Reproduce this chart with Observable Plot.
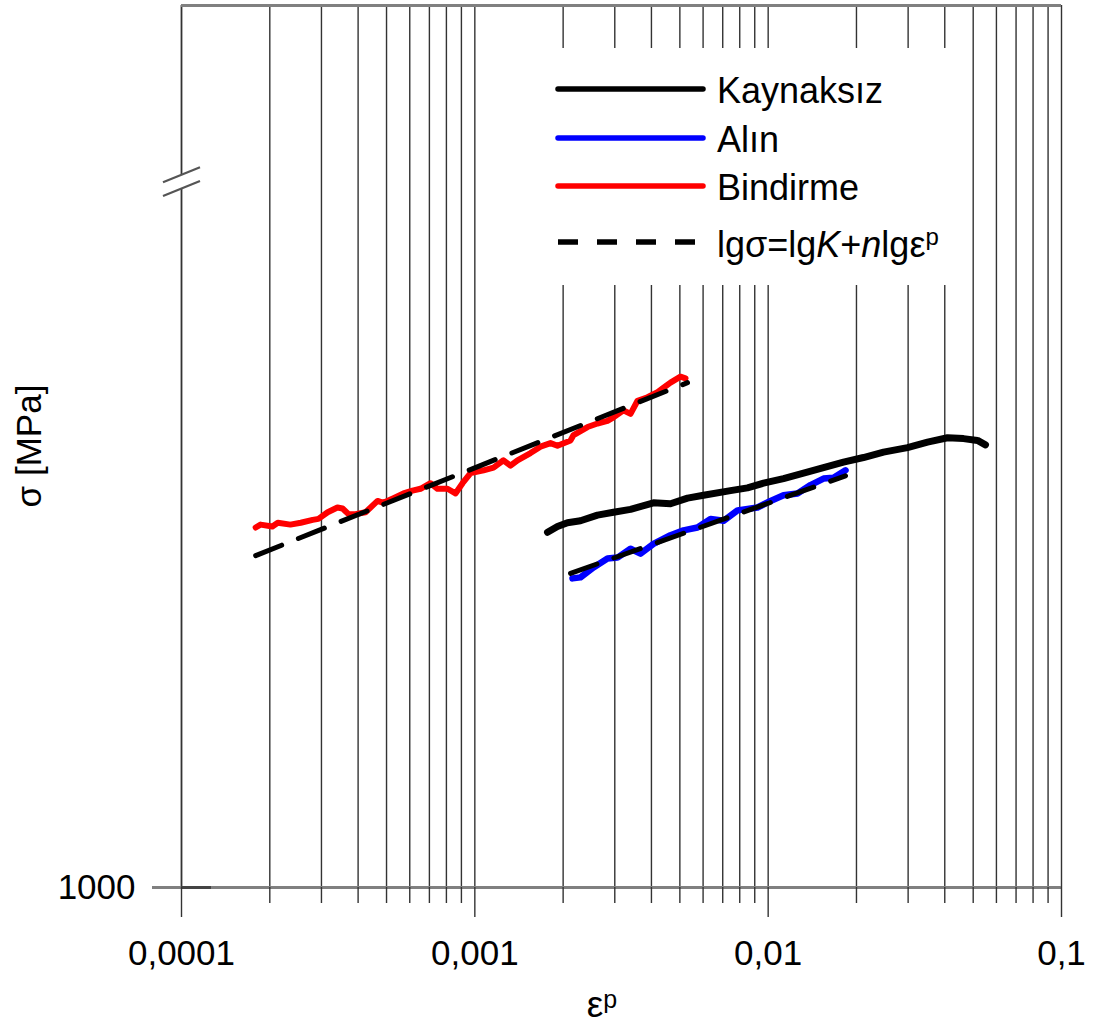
<!DOCTYPE html>
<html><head><meta charset="utf-8">
<script src="https://cdn.jsdelivr.net/npm/d3@7"></script>
<script src="https://cdn.jsdelivr.net/npm/@observablehq/plot@0.6"></script>
<style>
body{margin:0;background:#fff;font-family:"Liberation Sans",Arial,sans-serif;}
#wrap{position:relative;width:1098px;height:1026px;}
#legend{position:absolute;left:545px;top:48px;width:413px;height:237px;background:#fff;}
</style></head><body><div id="wrap"></div>
<script>
// ---- axis ticks ----
const xMajor = [0.0001, 0.001, 0.01, 0.1];
const xTickLabels = ["0,0001", "0,001", "0,01", "0,1"];
const xMinor = [0.0002,0.0003,0.0004,0.0005,0.0006,0.0007,0.0008,0.0009,
                0.002,0.003,0.004,0.005,0.006,0.007,0.008,0.009,
                0.02,0.03,0.04,0.05,0.06,0.07,0.08,0.09];
const yTicks = [1000];
const yTickLabels = ["1000"];
const yDomain = [1000, 2000];
const yBreak = [1732, 1751];

// ---- series: Kaynaksız (black) ----
const kaynaksizEps = [0.001769,0.001913,0.002069,0.002292,0.002619,0.002970,0.003394,0.004065,0.004645,0.005309,0.006020,0.007440,0.008502,0.009641,0.01128,0.01320,0.01544,0.01806,0.02113,0.02473,0.02985,0.03493,0.04087,0.04634,0.05172,0.05506];
const kaynaksizSigma = [1322,1328,1332,1334,1340,1343,1346,1353,1352,1358,1361,1366,1369,1374,1379,1385,1391,1397,1402,1408,1413,1419,1424,1423,1421,1416];

// ---- series: Alın (blue) ----
const alinEps = [0.002153,0.002292,0.002539,0.002833,0.003065,0.003394,0.003671,0.004065,0.004645,0.005145,0.005742,0.006362,0.007043,0.007863,0.009197,0.01019,0.01128,0.01259,0.01394,0.01544,0.01670,0.01835];
const alinSigma = [1275,1276,1286,1295,1296,1305,1300,1310,1319,1324,1327,1336,1334,1345,1348,1355,1361,1363,1372,1379,1380,1388];

// ---- series: Bindirme (red) ----
const bindirmeEps = [0.000179,0.000186,0.000204,0.000213,0.000235,0.000255,0.000280,0.000293,0.000315,0.000340,0.000354,0.000371,0.000392,0.000424,0.000466,0.000488,0.000528,0.000571,0.000613,0.000653,0.000706,0.000746,0.000807,0.000859,0.000908,0.000967,0.001071,0.001158,0.001252,0.001323,0.001398,0.001548,0.001674,0.001811,0.001913,0.002120,0.002170,0.002422,0.002619,0.002833,0.002970,0.003212,0.003394,0.003586,0.003878,0.004195,0.004397,0.004645,0.005024,0.005226];
const bindirmeSigma = [1327,1330,1328,1332,1330,1332,1335,1336,1343,1348,1347,1341,1341,1343,1355,1353,1358,1363,1366,1368,1374,1368,1368,1363,1374,1385,1388,1391,1399,1393,1399,1407,1414,1418,1415,1421,1427,1436,1440,1443,1447,1455,1451,1466,1470,1476,1481,1487,1494,1492];

// ---- fits lgσ = lgK + n lgε ----
const fitBindirmeEps = [0.000179, 0.005309];
const fitBindirmeSigma = [1298, 1487];
const fitAlinEps = [0.002120, 0.01835];
const fitAlinSigma = [1280, 1382];

const rows = (eps, sig) => eps.map((e, i) => ({eps: e, sigma: sig[i]}));
const gridColor = "#333333";
const frameColor = "#808080";

const slash = {draw(ctx) { ctx.moveTo(-18.5, 7.5); ctx.lineTo(18.5, -7.5); }};

const chart = Plot.plot({
  width: 1098, height: 1026,
  marginLeft: 181, marginRight: 37, marginTop: 5, marginBottom: 139,
  style: {fontFamily: "Liberation Sans, Arial, sans-serif", fontSize: "35px", color: "#000", background: "#fff"},
  x: {type: "log", domain: [xMajor[0], xMajor[xMajor.length - 1]]},
  y: {type: "log", domain: yDomain},
  marks: [
    Plot.ruleX([...xMinor, ...xMajor.slice(1)], {stroke: gridColor, strokeWidth: 1.4}),
    Plot.ruleX([{y1: yDomain[0], y2: yBreak[0]}, {y1: yBreak[1], y2: yDomain[1]}],
      {x: () => xMajor[0], y1: "y1", y2: "y2", stroke: gridColor, strokeWidth: 1.8}),
    Plot.ruleY([yDomain[1]], {stroke: frameColor, strokeWidth: 3}),
    Plot.ruleY(yTicks, {stroke: frameColor, strokeWidth: 3}),
    Plot.axisY({ticks: yTicks, tickSize: 29, tickPadding: 17, stroke: frameColor, strokeWidth: 3,
      tickFormat: d => yTickLabels[yTicks.indexOf(d)], label: null, fontSize: 35}),
    Plot.axisY({ticks: yTicks, tickSize: -30, tickFormat: () => "", stroke: "#444", strokeWidth: 3, label: null}),
    Plot.axisX({ticks: xMajor, tickSize: 30, tickPadding: 23, stroke: gridColor, strokeWidth: 1.4,
      tickFormat: d => xTickLabels[xMajor.indexOf(d)], label: null, fontSize: 35}),
    Plot.axisX({ticks: xMinor, tickSize: 16, tickFormat: () => "", stroke: gridColor, strokeWidth: 1.4, label: null}),
    Plot.dot(yBreak, {x: () => xMajor[0], y: d => d, symbol: slash, stroke: "#555", strokeWidth: 2.2, fill: "none"}),
    Plot.line(rows(kaynaksizEps, kaynaksizSigma), {x: "eps", y: "sigma", stroke: "#000", strokeWidth: 7, strokeLinejoin: "round", strokeLinecap: "round"}),
    Plot.line(rows(alinEps, alinSigma), {x: "eps", y: "sigma", stroke: "#0000ff", strokeWidth: 6.5, strokeLinejoin: "round", strokeLinecap: "round"}),
    Plot.line(rows(bindirmeEps, bindirmeSigma), {x: "eps", y: "sigma", stroke: "#ff0000", strokeWidth: 6, strokeLinejoin: "round", strokeLinecap: "round"}),
    Plot.line(rows(fitBindirmeEps, fitBindirmeSigma), {x: "eps", y: "sigma", stroke: "#000", strokeWidth: 5, strokeDasharray: "28,18"}),
    Plot.line(rows(fitAlinEps, fitAlinSigma), {x: "eps", y: "sigma", stroke: "#000", strokeWidth: 5, strokeDasharray: "28,18"})
  ]
});

const wrap = document.getElementById("wrap");
wrap.appendChild(chart);

const svg = d3.select(chart);
// x axis label εᵖ
const xl = svg.append("text").attr("x", 602).attr("y", 1017)
  .attr("font-family", "Liberation Sans, Arial, sans-serif").attr("font-size", 37).attr("fill", "#000");
xl.append("tspan").text("ε");
xl.append("tspan").attr("font-size", 25).attr("dy", -9).text("p");
// y axis label
svg.append("text").attr("transform", "translate(41,446) rotate(-90)").attr("text-anchor", "middle")
  .attr("font-family", "Liberation Sans, Arial, sans-serif").attr("font-size", 35).attr("fill", "#000")
  .text("σ [MPa]");

// legend (white box over the grid)
const legendItems = ["Kaynaksız", "Alın", "Bindirme"];
const legendColors = ["#000000", "#0000ff", "#ff0000"];
const leg = d3.select(wrap).append("div").attr("id", "legend")
  .append("svg").attr("width", 413).attr("height", 237)
  .attr("font-family", "Liberation Sans, Arial, sans-serif").attr("font-size", 36);
const rowY = [41, 90, 138, 194];
const textY = [55, 104, 152, 209];
legendItems.forEach((name, i) => {
  leg.append("line").attr("x1", 13).attr("x2", 158).attr("y1", rowY[i]).attr("y2", rowY[i])
    .attr("stroke", legendColors[i]).attr("stroke-width", 5.5).attr("stroke-linecap", "round");
  leg.append("text").attr("x", 172).attr("y", textY[i]).text(name);
});
leg.append("line").attr("x1", 13).attr("x2", 158).attr("y1", rowY[3]).attr("y2", rowY[3])
  .attr("stroke", "#000").attr("stroke-width", 5.5).attr("stroke-dasharray", "20,19");
const ft = leg.append("text").attr("x", 172).attr("y", textY[3]);
ft.append("tspan").text("lgσ=lg");
ft.append("tspan").attr("font-style", "italic").text("K");
ft.append("tspan").text("+");
ft.append("tspan").attr("font-style", "italic").text("n");
ft.append("tspan").text("lgε");
ft.append("tspan").attr("font-size", 24).attr("dy", -12).text("p");
</script></body></html>
